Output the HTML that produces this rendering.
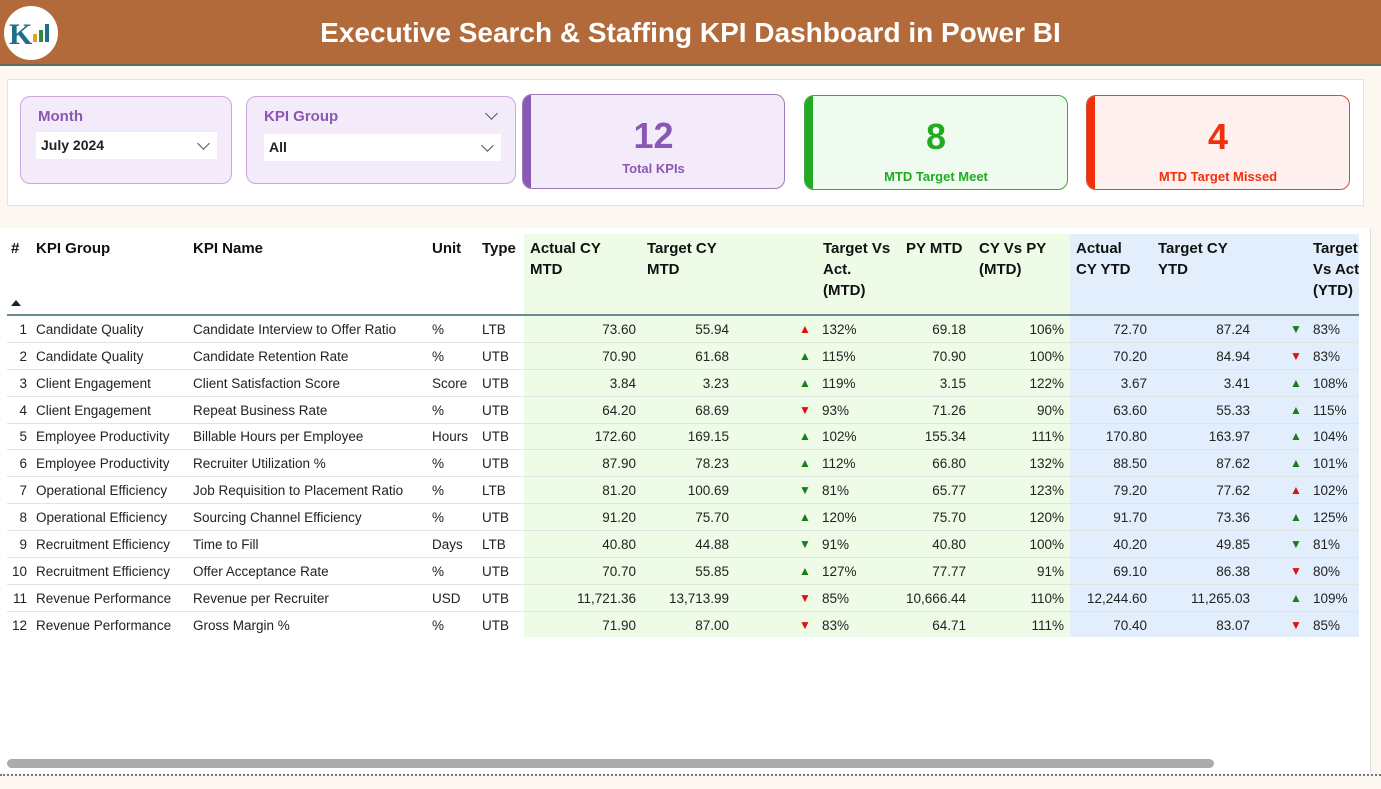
<!DOCTYPE html>
<html><head><meta charset="utf-8">
<style>
*{box-sizing:border-box;margin:0;padding:0}
body{width:1381px;height:789px;overflow:hidden;background:#fdf7f2;font-family:"Liberation Sans",sans-serif;position:relative;color:#222}
.top{position:absolute;left:0;top:0;width:1381px;height:66px;background:#b36a3a;border-bottom:2px solid #5f6f55}
.top h1{position:absolute;left:0;width:1381px;top:17px;text-align:center;color:#fff;font-size:28px;font-weight:bold}
.logo{position:absolute;left:4px;top:6px;width:54px;height:54px;border-radius:50%;background:#fff}
.panel{position:absolute;left:7px;top:79px;width:1357px;height:127px;background:#fff;border:1px solid #f0e0d4}
.slicer{position:absolute;background:#f3eafa;border:1px solid #c9a9dc;border-radius:10px}
.slicer .lbl{position:absolute;left:17px;top:11px;color:#8a58b3;font-weight:bold;font-size:15px}
.slicer .box{position:absolute;background:#fff;height:27px;font-weight:bold;font-size:14px;line-height:27px;padding-left:5px}
.chev{position:absolute;width:9px;height:9px;border-right:1.3px solid #555;border-bottom:1.3px solid #555;transform:rotate(45deg)}
.card{position:absolute;border-radius:10px;text-align:center;overflow:hidden}
.card .bar{position:absolute;left:0;top:0;bottom:0;width:8px}
.card .n{position:absolute;left:0;right:0;font-size:36px;font-weight:bold}
.card .t{position:absolute;left:0;right:0;font-size:13px;font-weight:bold}
.tpanel{position:absolute;left:0;top:228px;width:1371px;height:545px;background:#fff;border-right:1px solid #ddd}
.gband{position:absolute;left:524px;top:234px;width:546px;height:403px;background:#eefbe6}
.bband{position:absolute;left:1070px;top:234px;width:289px;height:403px;background:#e2eefb}
.h{position:absolute;font-weight:bold;font-size:15px;line-height:21px;color:#111;white-space:nowrap}
.hline{position:absolute;left:7px;top:314px;width:1352px;height:1.5px;background:#6a8a90}
.row{position:absolute;left:7px;width:1352px;height:27px;border-bottom:1px solid #e3e3e3;font-size:13.5px;line-height:27px}
.row span{position:absolute;white-space:nowrap}
.r{text-align:right}
.g{color:#1a7d1a;font-size:12px}.rd{color:#e01010;font-size:12px}
.scroll{position:absolute;left:7px;top:759px;width:1207px;height:9px;border-radius:5px;background:#ababab}
.dots{position:absolute;left:0;top:774px;width:1381px;border-top:2px dotted #777}
</style></head><body>
<div class="top"><div class="logo"><svg width="54" height="54" viewBox="0 0 54 54"><text x="5" y="38" font-family="Liberation Serif" font-size="30" font-weight="bold" fill="#1f6f8b">K</text><rect x="29" y="28" width="4" height="8" fill="#e6a020"/><rect x="35" y="24" width="4" height="12" fill="#2a8a40"/><rect x="41" y="18" width="4" height="18" fill="#1f6f8b"/></svg></div>
<h1>Executive Search &amp; Staffing KPI Dashboard in Power BI</h1></div>

<div class="panel"></div>
<div class="slicer" style="left:20px;top:96px;width:212px;height:88px"><div class="lbl">Month</div><div class="box" style="left:15px;top:35px;width:181px">July 2024</div><div class="chev" style="left:178px;top:42px"></div></div>
<div class="slicer" style="left:246px;top:96px;width:270px;height:88px"><div class="lbl">KPI Group</div><div class="chev" style="left:240px;top:12px"></div><div class="box" style="left:17px;top:37px;width:237px">All</div><div class="chev" style="left:236px;top:44px"></div></div>

<div class="card" style="left:522px;top:94px;width:263px;height:95px;background:#f3eafa;border:1px solid #9b7cb8"><div class="bar" style="background:#8a58b3"></div><div class="n" style="top:20px;color:#8a58b3">12</div><div class="t" style="top:66px;color:#8a58b3">Total KPIs</div></div>
<div class="card" style="left:804px;top:95px;width:264px;height:95px;background:#effbef;border:1px solid #44a244"><div class="bar" style="background:#22aa22"></div><div class="n" style="top:20px;color:#22aa22">8</div><div class="t" style="top:73px;color:#22aa22">MTD Target Meet</div></div>
<div class="card" style="left:1086px;top:95px;width:264px;height:95px;background:#fdf0ee;border:1px solid #d05030"><div class="bar" style="background:#f0300a"></div><div class="n" style="top:20px;color:#f0300a">4</div><div class="t" style="top:73px;color:#f0300a">MTD Target Missed</div></div>

<div class="tpanel"></div>
<div class="gband"></div><div class="bband"></div>
<div class="h" style="left:11px;top:238px">#</div>
<div style="position:absolute;left:11px;top:300px;width:0;height:0;border-left:5px solid transparent;border-right:5px solid transparent;border-bottom:6px solid #222"></div>
<div class="h" style="left:36px;top:238px">KPI Group</div>
<div class="h" style="left:193px;top:238px">KPI Name</div>
<div class="h" style="left:432px;top:238px">Unit</div>
<div class="h" style="left:482px;top:238px">Type</div>
<div class="h" style="left:530px;top:238px">Actual CY<br>MTD</div>
<div class="h" style="left:647px;top:238px">Target CY<br>MTD</div>
<div class="h" style="left:823px;top:238px">Target Vs<br>Act.<br>(MTD)</div>
<div class="h" style="left:906px;top:238px">PY MTD</div>
<div class="h" style="left:979px;top:238px">CY Vs PY<br>(MTD)</div>
<div class="h" style="left:1076px;top:238px">Actual<br>CY YTD</div>
<div class="h" style="left:1158px;top:238px">Target CY<br>YTD</div>
<div class="h" style="left:1313px;top:238px;width:46px;overflow:hidden">Target<br>Vs Act.<br>(YTD)</div>
<div class="hline"></div>

<div class="row" style="top:316px"><span class="r" style="left:0;width:20px">1</span><span style="left:29px">Candidate Quality</span><span style="left:186px">Candidate Interview to Offer Ratio</span><span style="left:425px">%</span><span style="left:475px">LTB</span><span class="r" style="left:530px;width:99px">73.60</span><span class="r" style="left:630px;width:92px">55.94</span><span class="rd" style="left:792px">▲</span><span style="left:815px">132%</span><span class="r" style="left:870px;width:89px">69.18</span><span class="r" style="left:957px;width:100px">106%</span><span class="r" style="left:1040px;width:100px">72.70</span><span class="r" style="left:1143px;width:100px">87.24</span><span class="g" style="left:1283px">▼</span><span style="left:1306px">83%</span></div>
<div class="row" style="top:343px"><span class="r" style="left:0;width:20px">2</span><span style="left:29px">Candidate Quality</span><span style="left:186px">Candidate Retention Rate</span><span style="left:425px">%</span><span style="left:475px">UTB</span><span class="r" style="left:530px;width:99px">70.90</span><span class="r" style="left:630px;width:92px">61.68</span><span class="g" style="left:792px">▲</span><span style="left:815px">115%</span><span class="r" style="left:870px;width:89px">70.90</span><span class="r" style="left:957px;width:100px">100%</span><span class="r" style="left:1040px;width:100px">70.20</span><span class="r" style="left:1143px;width:100px">84.94</span><span class="rd" style="left:1283px">▼</span><span style="left:1306px">83%</span></div>
<div class="row" style="top:370px"><span class="r" style="left:0;width:20px">3</span><span style="left:29px">Client Engagement</span><span style="left:186px">Client Satisfaction Score</span><span style="left:425px">Score</span><span style="left:475px">UTB</span><span class="r" style="left:530px;width:99px">3.84</span><span class="r" style="left:630px;width:92px">3.23</span><span class="g" style="left:792px">▲</span><span style="left:815px">119%</span><span class="r" style="left:870px;width:89px">3.15</span><span class="r" style="left:957px;width:100px">122%</span><span class="r" style="left:1040px;width:100px">3.67</span><span class="r" style="left:1143px;width:100px">3.41</span><span class="g" style="left:1283px">▲</span><span style="left:1306px">108%</span></div>
<div class="row" style="top:397px"><span class="r" style="left:0;width:20px">4</span><span style="left:29px">Client Engagement</span><span style="left:186px">Repeat Business Rate</span><span style="left:425px">%</span><span style="left:475px">UTB</span><span class="r" style="left:530px;width:99px">64.20</span><span class="r" style="left:630px;width:92px">68.69</span><span class="rd" style="left:792px">▼</span><span style="left:815px">93%</span><span class="r" style="left:870px;width:89px">71.26</span><span class="r" style="left:957px;width:100px">90%</span><span class="r" style="left:1040px;width:100px">63.60</span><span class="r" style="left:1143px;width:100px">55.33</span><span class="g" style="left:1283px">▲</span><span style="left:1306px">115%</span></div>
<div class="row" style="top:423px"><span class="r" style="left:0;width:20px">5</span><span style="left:29px">Employee Productivity</span><span style="left:186px">Billable Hours per Employee</span><span style="left:425px">Hours</span><span style="left:475px">UTB</span><span class="r" style="left:530px;width:99px">172.60</span><span class="r" style="left:630px;width:92px">169.15</span><span class="g" style="left:792px">▲</span><span style="left:815px">102%</span><span class="r" style="left:870px;width:89px">155.34</span><span class="r" style="left:957px;width:100px">111%</span><span class="r" style="left:1040px;width:100px">170.80</span><span class="r" style="left:1143px;width:100px">163.97</span><span class="g" style="left:1283px">▲</span><span style="left:1306px">104%</span></div>
<div class="row" style="top:450px"><span class="r" style="left:0;width:20px">6</span><span style="left:29px">Employee Productivity</span><span style="left:186px">Recruiter Utilization %</span><span style="left:425px">%</span><span style="left:475px">UTB</span><span class="r" style="left:530px;width:99px">87.90</span><span class="r" style="left:630px;width:92px">78.23</span><span class="g" style="left:792px">▲</span><span style="left:815px">112%</span><span class="r" style="left:870px;width:89px">66.80</span><span class="r" style="left:957px;width:100px">132%</span><span class="r" style="left:1040px;width:100px">88.50</span><span class="r" style="left:1143px;width:100px">87.62</span><span class="g" style="left:1283px">▲</span><span style="left:1306px">101%</span></div>
<div class="row" style="top:477px"><span class="r" style="left:0;width:20px">7</span><span style="left:29px">Operational Efficiency</span><span style="left:186px">Job Requisition to Placement Ratio</span><span style="left:425px">%</span><span style="left:475px">LTB</span><span class="r" style="left:530px;width:99px">81.20</span><span class="r" style="left:630px;width:92px">100.69</span><span class="g" style="left:792px">▼</span><span style="left:815px">81%</span><span class="r" style="left:870px;width:89px">65.77</span><span class="r" style="left:957px;width:100px">123%</span><span class="r" style="left:1040px;width:100px">79.20</span><span class="r" style="left:1143px;width:100px">77.62</span><span class="rd" style="left:1283px">▲</span><span style="left:1306px">102%</span></div>
<div class="row" style="top:504px"><span class="r" style="left:0;width:20px">8</span><span style="left:29px">Operational Efficiency</span><span style="left:186px">Sourcing Channel Efficiency</span><span style="left:425px">%</span><span style="left:475px">UTB</span><span class="r" style="left:530px;width:99px">91.20</span><span class="r" style="left:630px;width:92px">75.70</span><span class="g" style="left:792px">▲</span><span style="left:815px">120%</span><span class="r" style="left:870px;width:89px">75.70</span><span class="r" style="left:957px;width:100px">120%</span><span class="r" style="left:1040px;width:100px">91.70</span><span class="r" style="left:1143px;width:100px">73.36</span><span class="g" style="left:1283px">▲</span><span style="left:1306px">125%</span></div>
<div class="row" style="top:531px"><span class="r" style="left:0;width:20px">9</span><span style="left:29px">Recruitment Efficiency</span><span style="left:186px">Time to Fill</span><span style="left:425px">Days</span><span style="left:475px">LTB</span><span class="r" style="left:530px;width:99px">40.80</span><span class="r" style="left:630px;width:92px">44.88</span><span class="g" style="left:792px">▼</span><span style="left:815px">91%</span><span class="r" style="left:870px;width:89px">40.80</span><span class="r" style="left:957px;width:100px">100%</span><span class="r" style="left:1040px;width:100px">40.20</span><span class="r" style="left:1143px;width:100px">49.85</span><span class="g" style="left:1283px">▼</span><span style="left:1306px">81%</span></div>
<div class="row" style="top:558px"><span class="r" style="left:0;width:20px">10</span><span style="left:29px">Recruitment Efficiency</span><span style="left:186px">Offer Acceptance Rate</span><span style="left:425px">%</span><span style="left:475px">UTB</span><span class="r" style="left:530px;width:99px">70.70</span><span class="r" style="left:630px;width:92px">55.85</span><span class="g" style="left:792px">▲</span><span style="left:815px">127%</span><span class="r" style="left:870px;width:89px">77.77</span><span class="r" style="left:957px;width:100px">91%</span><span class="r" style="left:1040px;width:100px">69.10</span><span class="r" style="left:1143px;width:100px">86.38</span><span class="rd" style="left:1283px">▼</span><span style="left:1306px">80%</span></div>
<div class="row" style="top:585px"><span class="r" style="left:0;width:20px">11</span><span style="left:29px">Revenue Performance</span><span style="left:186px">Revenue per Recruiter</span><span style="left:425px">USD</span><span style="left:475px">UTB</span><span class="r" style="left:530px;width:99px">11,721.36</span><span class="r" style="left:630px;width:92px">13,713.99</span><span class="rd" style="left:792px">▼</span><span style="left:815px">85%</span><span class="r" style="left:870px;width:89px">10,666.44</span><span class="r" style="left:957px;width:100px">110%</span><span class="r" style="left:1040px;width:100px">12,244.60</span><span class="r" style="left:1143px;width:100px">11,265.03</span><span class="g" style="left:1283px">▲</span><span style="left:1306px">109%</span></div>
<div class="row" style="top:612px;border-bottom:none"><span class="r" style="left:0;width:20px">12</span><span style="left:29px">Revenue Performance</span><span style="left:186px">Gross Margin %</span><span style="left:425px">%</span><span style="left:475px">UTB</span><span class="r" style="left:530px;width:99px">71.90</span><span class="r" style="left:630px;width:92px">87.00</span><span class="rd" style="left:792px">▼</span><span style="left:815px">83%</span><span class="r" style="left:870px;width:89px">64.71</span><span class="r" style="left:957px;width:100px">111%</span><span class="r" style="left:1040px;width:100px">70.40</span><span class="r" style="left:1143px;width:100px">83.07</span><span class="rd" style="left:1283px">▼</span><span style="left:1306px">85%</span></div>

<div class="scroll"></div>
<div class="dots"></div>
</body></html>
